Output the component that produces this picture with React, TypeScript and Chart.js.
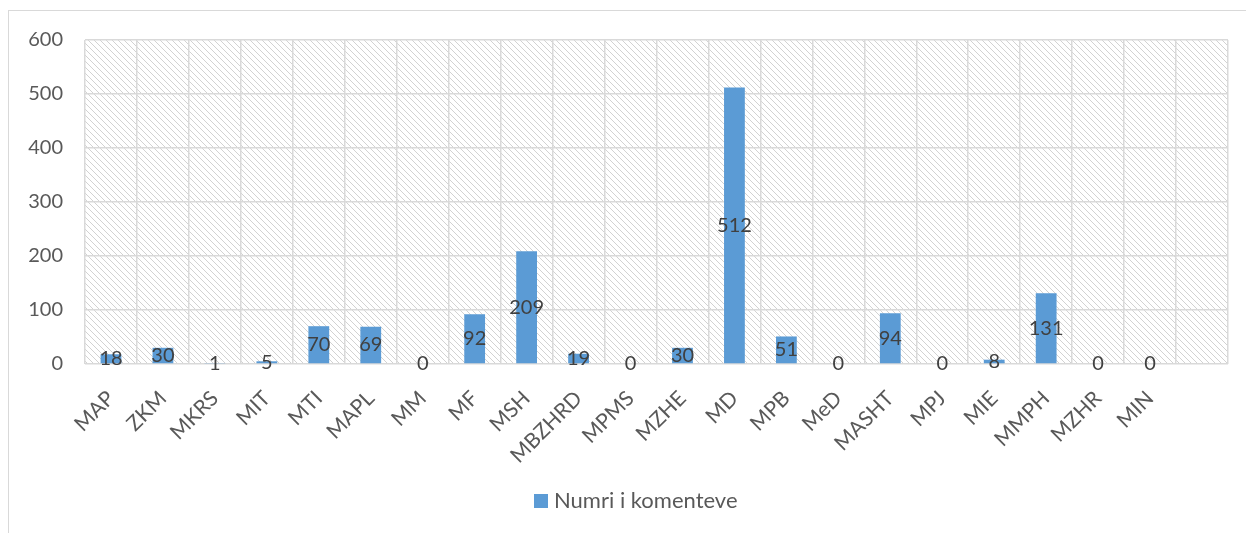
import React, { useEffect, useRef } from "react";
import { Chart, registerables } from "chart.js";

Chart.register(...registerables);

const categories = ["MAP","ZKM","MKRS","MIT","MTI","MAPL","MM","MF","MSH","MBZHRD","MPMS","MZHE","MD","MPB","MeD","MASHT","MPJ","MIE","MMPH","MZHR","MIN",""];
const values: (number | null)[] = [18,30,1,5,70,69,0,92,209,19,0,30,512,51,0,94,0,8,131,0,0,null];
const seriesName = "Numri i komenteve";
const yTicks = [0, 100, 200, 300, 400, 500, 600];

const FONT = "Lato, 'Open Sans', sans-serif";
const BAR = "#5B9BD5";

function makePattern(ctx: CanvasRenderingContext2D) {
  const n = 6;
  const c = document.createElement("canvas");
  c.width = n; c.height = n;
  const p = c.getContext("2d")!;
  p.fillStyle = "#ffffff";
  p.fillRect(0, 0, n, n);
  p.fillStyle = "#d2d2d2";
  for (let i = 0; i < n; i++) p.fillRect(i, i, 1, 1);
  return ctx.createPattern(c, "repeat")!;
}

const bgPlugin = {
  id: "bgPlugin",
  beforeDraw(chart: any) {
    const { ctx, chartArea: a } = chart;
    ctx.save();
    ctx.fillStyle = "#fff";
    ctx.fillRect(0, 0, chart.width, chart.height);
    ctx.strokeStyle = "#d9d9d9";
    ctx.lineWidth = 1;
    ctx.strokeRect(8.5, 10.5, 1300, 600);
    ctx.fillStyle = makePattern(ctx);
    ctx.fillRect(a.left, a.top, a.right - a.left, a.bottom - a.top);
    ctx.restore();
  },
  afterDraw(chart: any) {
    const { ctx } = chart;
    ctx.save();
    ctx.font = `22px ${FONT}`;
    const sq = 14;
    const x0 = 534;
    const cy = 501;
    ctx.fillStyle = BAR;
    ctx.fillRect(x0, cy - sq / 2, sq, sq);
    ctx.fillStyle = "#595959";
    ctx.textBaseline = "middle";
    ctx.textAlign = "left";
    ctx.fillText(seriesName, x0 + sq + 6, cy);
    ctx.restore();
  },
};

const labelPlugin = {
  id: "labelPlugin",
  afterDatasetsDraw(chart: any) {
    const { ctx } = chart;
    const meta = chart.getDatasetMeta(0);
    ctx.save();
    ctx.font = `20px ${FONT}`;
    ctx.fillStyle = "#404040";
    ctx.textAlign = "center";
    ctx.textBaseline = "middle";
    meta.data.forEach((el: any, i: number) => {
      const v = values[i];
      if (v === null || v === undefined) return;
      const y = (el.y + el.base) / 2;
      ctx.fillText(String(v), el.x, y);
    });
    ctx.restore();
  },
};

export default function App() {
  const ref = useRef<HTMLCanvasElement>(null);
  useEffect(() => {
    const chart = new Chart(ref.current!, {
      type: "bar",
      data: {
        labels: categories,
        datasets: [{
          label: seriesName,
          data: values,
          backgroundColor: BAR,
          barPercentage: 0.4,
          categoryPercentage: 1,
        }],
      },
      options: {
        animation: false,
        responsive: false,
        maintainAspectRatio: false,
        layout: { padding: { top: 40, right: 18, left: 0, bottom: 0 } },
        plugins: { legend: { display: false }, tooltip: { enabled: false } },
        scales: {
          x: {
            offset: true,
            grid: { offset: true, color: "#d9d9d9", lineWidth: 1.5, drawTicks: false },
            border: { display: false },
            ticks: {
              color: "#595959",
              font: { family: FONT, size: 21 },
              maxRotation: 45,
              minRotation: 45,
              padding: 22,
              autoSkip: false,
            },
            afterFit: (s: any) => { s.height = 533 - 364; },
          },
          y: {
            min: 0,
            max: 600,
            afterBuildTicks: (s: any) => { s.ticks = yTicks.map((v) => ({ value: v })); },
            grid: { color: "#d9d9d9", lineWidth: 1.5, drawTicks: false },
            border: { display: false },
            ticks: {
              color: "#595959",
              font: { family: FONT, size: 20 },
              padding: 22,
            },
            afterFit: (s: any) => { s.width = 85; },
          },
        },
      },
      plugins: [bgPlugin, labelPlugin],
    });
    return () => chart.destroy();
  }, []);
  return (
    <div style={{ position: "absolute", left: 0, top: 0, width: 1246, height: 533 }}>
      <canvas ref={ref} width={1246} height={533} style={{ display: "block", width: 1246, height: 533 }} />
    </div>
  );
}
